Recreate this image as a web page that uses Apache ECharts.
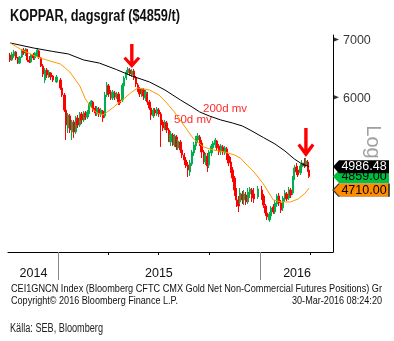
<!DOCTYPE html>
<html>
<head>
<meta charset="utf-8">
<script src="https://cdn.jsdelivr.net/npm/echarts@6/dist/echarts.min.js"></script>
<style>
  html, body { margin: 0; padding: 0; background: #fff; }
  #chart { width: 394px; height: 341px; }
</style>
</head>
<body>
<div id="chart"></div>
<script>
// Copper (LME), daily candles sampled twice a week, Oct 2014 – Mar 2016
const dates = [
  '2014-10-06','2014-10-09','2014-10-13','2014-10-16','2014-10-20','2014-10-23','2014-10-27','2014-10-30',
  '2014-11-03','2014-11-06','2014-11-10','2014-11-13','2014-11-17','2014-11-20','2014-11-24','2014-11-27',
  '2014-12-01','2014-12-04','2014-12-08','2014-12-11','2014-12-15','2014-12-18','2014-12-22','2014-12-29',
  '2015-01-05','2015-01-08','2015-01-12','2015-01-15','2015-01-19','2015-01-22','2015-01-26','2015-01-29',
  '2015-02-02','2015-02-05','2015-02-09','2015-02-12','2015-02-16','2015-02-19','2015-02-23','2015-02-26',
  '2015-03-02','2015-03-05','2015-03-09','2015-03-12','2015-03-16','2015-03-19','2015-03-23','2015-03-26',
  '2015-03-30','2015-04-02','2015-04-06','2015-04-09','2015-04-13','2015-04-16','2015-04-20','2015-04-23',
  '2015-04-27','2015-04-30','2015-05-04','2015-05-07','2015-05-11','2015-05-14','2015-05-18','2015-05-21',
  '2015-05-25','2015-05-28','2015-06-01','2015-06-04','2015-06-08','2015-06-11','2015-06-15','2015-06-18',
  '2015-06-22','2015-06-25','2015-06-29','2015-07-02','2015-07-06','2015-07-09','2015-07-13','2015-07-16',
  '2015-07-20','2015-07-23','2015-07-27','2015-07-30','2015-08-03','2015-08-06','2015-08-10','2015-08-13',
  '2015-08-17','2015-08-20','2015-08-24','2015-08-27','2015-08-31','2015-09-03','2015-09-07','2015-09-10',
  '2015-09-14','2015-09-17','2015-09-21','2015-09-24','2015-09-28','2015-10-01','2015-10-05','2015-10-08',
  '2015-10-12','2015-10-15','2015-10-19','2015-10-22','2015-10-26','2015-10-29','2015-11-02','2015-11-05',
  '2015-11-09','2015-11-12','2015-11-16','2015-11-19','2015-11-23','2015-11-26','2015-11-30','2015-12-03',
  '2015-12-07','2015-12-10','2015-12-14','2015-12-17','2015-12-21','2015-12-28',
  '2016-01-04','2016-01-07','2016-01-11','2016-01-14','2016-01-18','2016-01-21','2016-01-25','2016-01-28',
  '2016-02-01','2016-02-04','2016-02-08','2016-02-11','2016-02-15','2016-02-18','2016-02-22','2016-02-25',
  '2016-02-29','2016-03-03','2016-03-07','2016-03-10','2016-03-14','2016-03-17','2016-03-21','2016-03-24',
  '2016-03-28','2016-03-30'
];
const opens = [
  6716,6627,6698,6771,6663,6574,6680,6807,6735,6807,6627,6592,6716,6663,6698,6789,6663,6521,6283,6453,
  6351,6402,6351,6250,6283,6151,6037,5800,5528,5709,5470,5618,5470,5678,5573,5739,5648,5754,5693,5769,
  5862,5926,5831,5739,5815,5724,5785,5709,6037,6184,6069,5989,6069,6005,6053,5957,5957,6184,6317,6402,
  6453,6368,6436,6317,6200,6135,6037,6118,5989,6053,5926,5831,5709,5800,5739,5800,5739,5618,5528,5603,
  5499,5326,5426,5284,5397,5242,5326,5214,5144,5076,5009,4917,5022,5172,5270,5354,5397,5312,5186,5049,
  5130,5009,5172,5242,5284,5340,5270,5186,5256,5172,5228,5130,5049,4943,4838,4686,4563,4539,4637,4563,
  4624,4539,4637,4686,4637,4600,4686,4612,4490,4408,4326,4373,4479,4419,4514,4612,4527,4467,4575,4637,
  4587,4686,4649,4838,4982,4943,4904,4982,5036,5009,5049,4943
];
const closes = [
  6627,6735,6771,6663,6574,6680,6807,6753,6825,6627,6592,6716,6663,6753,6807,6680,6521,6385,6453,6368,
  6418,6334,6283,6334,6151,6037,5800,5573,5724,5499,5618,5470,5678,5573,5739,5648,5754,5693,5769,5894,
  5941,5800,5754,5831,5739,5800,5678,6037,6200,6053,5989,6086,6005,6053,5926,5910,6200,6317,6418,6470,
  6385,6436,6317,6217,6118,6053,6135,6021,6086,5926,5831,5724,5800,5754,5815,5739,5573,5528,5618,5499,
  5383,5441,5326,5412,5256,5340,5214,5144,5076,4996,4943,5036,5186,5284,5383,5412,5312,5186,5076,5144,
  4996,5186,5270,5312,5354,5242,5186,5270,5186,5242,5130,5036,4943,4838,4686,4563,4490,4649,4563,4637,
  4539,4661,4699,4587,4575,4699,4600,4502,4408,4361,4396,4467,4419,4527,4612,4527,4443,4587,4649,4575,
  4686,4624,4838,4969,4917,4877,4996,5036,4996,5062,4943,4859
];
const lows = [
  6592,6610,6663,6627,6556,6556,6663,6716,6698,6592,6574,6574,6627,6627,6680,6645,6504,6334,6233,6317,
  6317,6283,6250,6233,6118,6005,5769,5354,5455,5455,5354,5383,5441,5528,5543,5588,5618,5648,5663,5739,
  5831,5769,5709,5709,5693,5693,5618,5678,6005,6005,5957,5957,5957,5973,5878,5878,5926,6151,6283,6368,
  6351,6334,6283,6167,6086,6005,6005,5957,5941,5878,5800,5648,5678,5709,5709,5693,5256,5484,5499,5455,
  5326,5270,5270,5256,5214,5214,5172,5103,5009,4969,4851,4864,4996,5130,5214,5312,5270,5103,5022,5009,
  4917,4969,5130,5186,5242,5200,5144,5144,5144,5144,5076,4996,4904,4787,4612,4479,4419,4514,4514,4502,
  4502,4514,4587,4539,4527,4575,4563,4467,4373,4326,4304,4349,4396,4396,4479,4490,4408,4431,4539,4551,
  4563,4587,4624,4813,4877,4851,4877,4956,4969,4982,4917,4838
];
const highs = [
  6753,6771,6807,6789,6680,6698,6825,6843,6843,6825,6698,6735,6753,6771,6843,6807,6680,6556,6487,6487,
  6453,6418,6368,6368,6317,6184,6069,5831,5754,5739,5648,5648,5709,5724,5769,5769,5785,5785,5800,5926,
  5957,5941,5862,5862,5847,5831,5800,6086,6250,6217,6118,6118,6102,6086,6086,6021,6233,6351,6453,6504,
  6487,6470,6470,6351,6233,6167,6151,6151,6118,6086,5957,5878,5831,5831,5847,5831,5769,5648,5648,5633,
  5528,5484,5455,5441,5426,5368,5354,5256,5172,5117,5049,5076,5214,5326,5412,5455,5426,5354,5214,5172,
  5172,5214,5298,5340,5383,5354,5298,5298,5284,5270,5256,5158,5117,4982,4864,4711,4612,4711,4674,4686,
  4661,4711,4724,4711,4711,4737,4737,4637,4514,4419,4419,4490,4514,4563,4637,4649,4563,4612,4686,4661,
  4724,4711,4864,5009,5036,4996,5022,5076,5103,5103,5076,4969
];

// 200-day moving average
const ma200Dates = [
  '2014-10-06','2014-11-17','2014-12-22','2015-01-19','2015-02-16','2015-03-16','2015-04-16','2015-05-14',
  '2015-06-15','2015-07-13','2015-08-10','2015-08-31','2015-09-14','2015-10-01','2015-10-22','2015-11-12',
  '2015-11-30','2015-12-14','2016-01-07','2016-01-28','2016-02-15','2016-03-03','2016-03-17','2016-03-30'
];
const ma200Values = [
  6935,6843,6780,6735,6627,6574,6461,6351,
  6250,6118,5957,5847,5769,5709,5648,5603,
  5558,5499,5390,5298,5200,5090,5022,4986.48
];
// 50-day moving average
const ma50Dates = [
  '2014-10-06','2014-10-27','2014-11-24','2014-12-11','2015-01-05','2015-01-22','2015-02-09','2015-02-19',
  '2015-03-02','2015-03-12','2015-03-23','2015-04-09','2015-04-27','2015-05-14','2015-05-25','2015-06-15',
  '2015-07-02','2015-07-13','2015-07-30','2015-08-17','2015-09-03','2015-09-21','2015-10-08','2015-10-29',
  '2015-11-16','2015-11-26','2015-12-10','2015-12-21','2016-01-07','2016-01-25','2016-02-08','2016-02-25',
  '2016-03-10','2016-03-21','2016-03-30'
];
const ma50Values = [
  6935,6807,6680,6627,6556,6418,6184,5973,
  5831,5754,5724,5831,5957,6086,6151,6118,
  6037,5941,5769,5558,5368,5256,5214,5186,
  5144,5103,4996,4917,4762,4563,4539,4539,
  4575,4637,4710
];

// axis ticks and labels
const yTickValues = [6000, 7000];
const yearTickDates = ['2015-01-01', '2016-01-01'];
const quarterTickDates = ['2015-04-01', '2015-07-01', '2015-10-01', '2016-04-01'];
const yearLabelDates = ['2014-11-17', '2015-07-02', '2016-03-08'];
const axisStart = '2014-10-02';
const axisEnd = '2016-05-12';

// arrows above the two highs
const arrowDates = ['2015-05-14', '2016-03-24'];
const lastClose = 4859.00;
const lastMa200 = 4986.48;
const lastMa50 = 4710.00;

const t = s => echarts.time.parse(s).getTime();
const plain = '"Liberation Sans", Arial, sans-serif';

// squeeze a text horizontally so it spans the given width (narrow Bloomberg look)
const measureCtx = document.createElement('canvas').getContext('2d');
function fitScale(text, font, width) {
  measureCtx.font = font;
  return width / measureCtx.measureText(text).width;
}
function narrowText(text, font, x, y, width, fill, align) {
  return {
    type: 'text', x: x, y: y, scaleX: fitScale(text, font, width),
    style: { text: text, font: font, fill: fill, align: align || 'left', verticalAlign: 'middle' }
  };
}

const candleData = dates.map((d, i) => [t(d), opens[i], closes[i], lows[i], highs[i]]);
const ma200Data = ma200Dates.map((d, i) => [t(d), ma200Values[i]]);
const ma50Data = ma50Dates.map((d, i) => [t(d), ma50Values[i]]);

const arrowPath = 'path://M6.8,0 L10.2,0 L10.2,21 L14.5,15.5 L17,17.6 L8.5,29 L0,17.6 L2.5,15.5 L6.8,21 Z';
const tagPath = 'path://M0,6.5 L6,0 L56,0 L56,13 L6,13 Z';

function arrowPoint(dateStr, h) {
  const i = dates.indexOf(dateStr);
  return {
    coord: [t(dateStr), highs[i]],
    symbol: arrowPath,
    symbolSize: [17, h],
    symbolKeepAspect: false,
    symbolOffset: [0, -(h / 2 + 1)],
    itemStyle: { color: '#ff0000' },
    label: { show: false }
  };
}

function tag(value, fill, textColor, dy, border) {
  return {
    coord: [t(axisEnd), value],
    symbol: tagPath,
    symbolSize: [56, 13],
    symbolKeepAspect: false,
    symbolOffset: [28, dy],
    itemStyle: { color: fill, borderColor: border || fill, borderWidth: border ? 0.8 : 0 },
    label: {
      show: true, position: 'inside', formatter: value.toFixed(2),
      color: textColor, fontFamily: plain, fontSize: 12.5, offset: [3, 0]
    }
  };
}

const xBase = {
  type: 'value',
  min: t(axisStart), max: t(axisEnd),
  position: 'bottom',
  splitLine: { show: false }
};

const titleText = 'KOPPAR, dagsgraf ($4859/t)';
const sourceLine = 'CEI1GNCN Index (Bloomberg CFTC CMX Gold Net Non-Commercial Futures Positions) Gr';
const copyLine = 'Copyright\u00a9 2016 Bloomberg Finance L.P.';
const stampLine = '30-Mar-2016 08:24:20';
const kallaLine = 'K\u00e4lla: SEB, Bloomberg';

const chart = echarts.init(document.getElementById('chart'), null, { renderer: 'canvas' });
chart.setOption({
  animation: false,
  backgroundColor: '#ffffff',
  grid: { left: 8, right: 61, top: 35, bottom: 89, containLabel: false },
  xAxis: [Object.assign({}, xBase, {
    axisLine: { show: true, lineStyle: { color: '#000', width: 1 } },
    axisTick: {
      show: true, inside: false, length: 28,
      customValues: yearTickDates.map(t),
      lineStyle: { color: '#888', width: 1 }
    },
    axisLabel: {
      show: true, customValues: yearLabelDates.map(t),
      formatter: v => String(new Date(v).getFullYear()),
      margin: 15, fontSize: 12.5, color: '#111', fontFamily: plain
    }
  }), Object.assign({}, xBase, {
    axisLine: { show: false },
    axisTick: {
      show: true, length: 3,
      customValues: quarterTickDates.map(t),
      lineStyle: { color: '#000', width: 1 }
    },
    axisLabel: { show: false }
  })],
  yAxis: {
    type: 'log', logBase: 10,
    min: 3972, max: 7084,
    position: 'right',
    axisLine: { show: true, lineStyle: { color: '#000', width: 1 } },
    axisTick: { show: false },
    axisLabel: { show: false },
    splitLine: { show: false }
  },
  series: [{
    type: 'candlestick',
    name: 'Koppar',
    data: candleData,
    barWidth: 1.8,
    itemStyle: {
      color: '#00b050', color0: '#ff0000',
      borderColor: '#00b050', borderColor0: '#ff0000', borderWidth: 1
    },
    markPoint: {
      silent: true,
      data: [
        arrowPoint(arrowDates[0], 24),
        arrowPoint(arrowDates[1], 29),
        tag(lastClose, '#00c040', '#000', 0)
      ]
    },
    z: 2
  }, {
    type: 'line',
    name: '200d mv',
    data: ma200Data,
    showSymbol: false,
    lineStyle: { color: '#000', width: 1 },
    markPoint: { silent: true, data: [tag(lastMa200, '#000', '#fff', 0)] },
    z: 3
  }, {
    type: 'line',
    name: '50d mv',
    data: ma50Data,
    showSymbol: false,
    lineStyle: { color: '#ff9900', width: 1 },
    markPoint: { silent: true, data: [tag(lastMa50, '#ff8c00', '#000', 2, '#333')] },
    z: 4
  }, {
    type: 'scatter',
    name: 'ticks',
    clip: false,
    silent: true,
    data: yTickValues.map(v => [t(axisEnd), v]),
    symbol: 'path://M0,0 L6,2.5 L0,5 Z',
    symbolSize: [6, 5],
    symbolKeepAspect: false,
    symbolOffset: [3, 0],
    itemStyle: { color: '#000' },
    label: {
      show: true, position: 'right', distance: 4, offset: [0, 1],
      formatter: p => String(p.value[1]),
      color: '#000', fontSize: 12.5, fontFamily: plain
    },
    z: 5
  }],
  graphic: [
    narrowText(titleText, 'bold 16px ' + plain, 10, 16.5, 170, '#111'),
    { type: 'text', x: 203, y: 109, style: { text: '200d mv', fill: '#ff2a2a', font: '11.5px ' + plain, verticalAlign: 'middle' } },
    { type: 'text', x: 174, y: 120, style: { text: '50d mv', fill: '#ff2a2a', font: '11.5px ' + plain, verticalAlign: 'middle' } },
    { type: 'text', x: 373, y: 142, rotation: -Math.PI / 2,
      style: { text: 'Log', fill: '#a0a0a0', font: '20px ' + plain, align: 'center', verticalAlign: 'middle' } },
    narrowText(sourceLine, '11px ' + plain, 11, 289, 371, '#111'),
    narrowText(copyLine, '11px ' + plain, 11, 301, 167, '#111'),
    narrowText(stampLine, '11px ' + plain, 382, 301, 90, '#111', 'right'),
    narrowText(kallaLine, '12px ' + plain, 10, 329, 93, '#222')
  ]
});
</script>
</body>
</html>
